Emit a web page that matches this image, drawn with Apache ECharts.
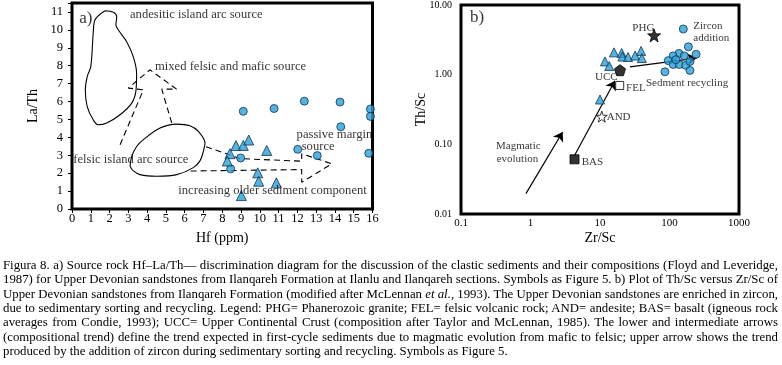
<!DOCTYPE html>
<html>
<head>
<meta charset="utf-8">
<script src="https://cdn.jsdelivr.net/npm/echarts@6/dist/echarts.min.js"></script>
<style>
  body { margin: 0; background: #fff; }
  #chart { position: absolute; left: 0; top: 0; width: 782px; height: 250px; }
  #caption { position: absolute; left: 3px; top: 258px; width: 775px; font: 12.8px/14.33px 'Liberation Serif', serif; color: #000; }
  #caption div { text-align: justify; text-align-last: justify; white-space: nowrap; }
  #caption div.last { text-align-last: left; }
</style>
</head>
<body>
<div id="chart"></div>
<div id="caption">
  <div>Figura 8. a) Source rock Hf–La/Th— discrimination diagram for the discussion of the clastic sediments and their compositions (Floyd and Leveridge,</div>
  <div>1987) for Upper Devonian sandstones from Ilanqareh Formation at Ilanlu and Ilanqareh sections. Symbols as Figure 5. b) Plot of Th/Sc versus Zr/Sc of</div>
  <div>Upper Devonian sandstones from Ilanqareh Formation (modified after McLennan <i>et al.</i>, 1993). The Upper Devonian sandstones are enriched in zircon,</div>
  <div>due to sedimentary sorting and recycling. Legend: PHG= Phanerozoic granite; FEL= felsic volcanic rock; AND= andesite; BAS= basalt (igneous rock</div>
  <div>averages from Condie, 1993); UCC= Upper Continental Crust (composition after Taylor and McLennan, 1985). The lower and intermediate arrows</div>
  <div>(compositional trend) define the trend expected in first-cycle sediments due to magmatic evolution from mafic to felsic; upper arrow shows the trend</div>
  <div class="last">produced by the addition of zircon during sedimentary sorting and recycling. Symbols as Figure 5.</div>
</div>
<script>
const FONT = 'Liberation Serif'

// a) Hf (ppm) vs La/Th
const hfCircle = [9.12, 10.76, 12.37, 14.27, 15.89, 15.89, 14.31, 12.02, 13.06, 15.8, 8.98, 8.45]
const laThCircle = [5.45, 5.61, 6.02, 5.97, 5.58, 5.17, 4.59, 3.33, 2.98, 3.11, 2.85, 2.24]
const hfTriangle = [8.73, 9.12, 9.41, 8.41, 8.27, 10.37, 9.89, 9.94, 10.88, 9.02]
const laThTriangle = [3.54, 3.55, 3.85, 3.09, 2.68, 3.27, 2.02, 1.55, 1.46, 0.75]

// source fields and trend arrows, in Hf / La/Th units
const andesiticArc = [[1.76, 11.07], [2.2, 10.98], [2.38, 10.74], [2.34, 10.27], [2.47, 9.99], [2.91, 9.34], [3.26, 8.51], [3.44, 7.58], [3.41, 6.65], [3.18, 5.91], [2.56, 5.26], [1.85, 4.8], [1.4, 4.7], [1.13, 4.98], [0.81, 5.72], [0.71, 6.65], [0.81, 7.39], [1.0, 7.95], [1.13, 9.81], [1.22, 10.55], [1.76, 11.07]]
const felsicArc = [[3.09, 2.38], [3.18, 2.94], [3.45, 3.5], [3.8, 3.87], [4.69, 4.52], [5.58, 4.74], [6.28, 4.65], [6.73, 4.33], [7.08, 3.69], [6.99, 3.2], [6.82, 2.7], [6.46, 2.31], [5.58, 1.92], [4.51, 1.83], [3.62, 1.92], [3.25, 2.14], [3.09, 2.38]]
const mixedArrow = [[2.56, 3.59], [3.8, 6.65], [3.0, 6.75], [4.15, 7.77], [5.57, 6.69], [4.78, 6.69], [5.31, 4.8]]
const olderArrow = [[7.14, 3.48], [8.95, 2.81], [12.23, 2.67], [12.23, 3.09], [13.83, 2.52], [12.23, 1.49], [12.23, 2.2], [6.28, 2.12]]

const labelTextA = ['a)', 'andesitic island arc source', 'mixed felsic and mafic source', 'felsic island arc source', 'passive margin', 'source', 'increasing older sediment component']
const labelPosA = [[0.39, 10.66], [3.09, 10.83], [4.42, 7.95], [0.07, 2.76], [11.96, 4.15], [12.23, 3.5], [5.66, 1.05]]

// b) Zr/Sc vs Th/Sc
const zrScCircle = [158, 187, 137, 113, 163, 241, 96, 113, 138, 171, 197, 86, 197, 123]
const thScCircle = [4.52, 2.51, 2.02, 1.86, 1.86, 1.96, 1.59, 1.4, 1.4, 1.36, 1.55, 1.1, 1.15, 1.64]
const zrScTriangle = [15.9, 20.5, 21, 25.3, 32, 39, 40, 11.8, 13.6, 10]
const thScTriangle = [2.09, 2.05, 1.82, 1.79, 1.88, 2.19, 1.73, 1.55, 1.33, 0.44]

const refNames = ['PHG', 'UCC', 'FEL', 'AND', 'BAS']
const refZrSc = [60, 19.4, 19.2, 10.6, 4.3]
const refThSc = [3.66, 1.16, 0.7, 0.25, 0.061]

const arrowFrom = [[0.86, 0.0196], [4.3, 0.069], [27, 1.29]]
const arrowTo = [[2.9, 0.15], [16.4, 0.82], [246, 1.73]]

const labelTextB = ['b)', 'PHG', 'Zircon', 'addition', 'UCC', 'FEL', 'AND', 'BAS', 'Sedment recycling', 'Magmatic', 'evolution']
const labelPosB = [[0.1347, 6.58], [29.2, 4.67], [220, 4.93], [220, 3.35], [8.47, 0.908], [23.7, 0.645], [12.5, 0.243], [5.45, 0.055], [45.9, 0.757], [0.319, 0.093], [0.326, 0.061]]

const STAR = 'path://M0,-10L2.35,-3.24L9.51,-3.09L3.8,1.24L5.88,8.09L0,4L-5.88,8.09L-3.8,1.24L-9.51,-3.09L-2.35,-3.24Z'
const PENTAGON = 'path://M0,-10L9.5,-3.1L5.9,8.1L-5.9,8.1L-9.5,-3.1Z'
const refStyle = {
  PHG: { symbol: STAR, size: 13, fill: '#000' },
  UCC: { symbol: PENTAGON, size: 11, fill: '#000' },
  FEL: { symbol: 'rect', size: 8, fill: '#fff' },
  AND: { symbol: STAR, size: 11, fill: '#fff' },
  BAS: { symbol: 'rect', size: 9, fill: '#000' }
}

const blue = { color: '#2aa0da', borderColor: '#12324d', borderWidth: 1 }
const zip = (xs, ys) => xs.map((x, i) => [x, ys[i]])

const chart = echarts.init(document.getElementById('chart'))

const outline = (pts, dashed, smooth) => ({
  type: 'line', xAxisIndex: 0, yAxisIndex: 0, data: pts, symbol: 'none', smooth: smooth, silent: true, z: 2,
  lineStyle: { color: '#000', width: 1.1, type: dashed ? [6, 4] : 'solid' }
})

const textSeries = (names, pos, idx, size) => ({
  type: 'scatter', xAxisIndex: idx, yAxisIndex: idx, symbolSize: 0, silent: true, z: 6,
  data: names.map((n, i) => ({ name: n, value: pos[i], label: n.endsWith(')') ? { fontSize: 17 } : {} })),
  label: { show: true, position: 'right', distance: 0, formatter: '{b}', fontFamily: FONT, fontSize: size, color: '#000' }
})

const tickA = { fontFamily: FONT, fontSize: 12.5, color: '#000' }
const tickB = { fontFamily: FONT, fontSize: 11, color: '#000' }
const nameText = { fontFamily: FONT, fontSize: 14, color: '#000' }

const option = {
  animation: false,
  grid: [
    { left: 72, top: 3, width: 300.5, height: 206.5, show: true, borderColor: '#000', borderWidth: 3 },
    { left: 461, top: 2, width: 278, height: 215, show: true, borderColor: '#000', borderWidth: 3 }
  ],
  xAxis: [
    {
      gridIndex: 0, type: 'value', min: 0, max: 16, interval: 1,
      name: 'Hf (ppm)', nameLocation: 'middle', nameGap: 22, nameMoveOverlap: false, nameTextStyle: nameText,
      axisLine: { show: false }, axisTick: { show: true, length: 4, lineStyle: { color: '#000' } },
      axisLabel: Object.assign({ margin: 3 }, tickA), splitLine: { show: false }
    },
    {
      gridIndex: 1, type: 'log', logBase: 10, min: 0.1, max: 1000,
      name: 'Zr/Sc', nameLocation: 'middle', nameGap: 17, nameMoveOverlap: false, nameTextStyle: nameText,
      axisLine: { show: false }, axisTick: { show: false },
      axisLabel: Object.assign({ margin: 4, formatter: v => String(+v.toPrecision(3)) }, tickB),
      splitLine: { show: false }
    }
  ],
  yAxis: [
    {
      gridIndex: 0, type: 'value', min: 0, max: 11.5, interval: 1,
      name: 'La/Th', nameLocation: 'middle', nameGap: 32, nameMoveOverlap: false, nameTextStyle: nameText,
      axisLine: { show: false }, axisTick: { show: true, length: 4, lineStyle: { color: '#000' } },
      axisLabel: Object.assign({ margin: 9, formatter: v => Number.isInteger(v) ? String(v) : '' }, tickA),
      splitLine: { show: false }
    },
    {
      gridIndex: 1, type: 'log', logBase: 10, min: 0.01, max: 10,
      name: 'Th/Sc', nameLocation: 'middle', nameGap: 33, nameMoveOverlap: false, nameTextStyle: nameText,
      axisLine: { show: false }, axisTick: { show: false },
      axisLabel: Object.assign({ margin: 9, formatter: v => (+v).toFixed(2) }, tickB, { fontSize: 10 }),
      splitLine: { show: false }
    }
  ],
  series: [
    outline(andesiticArc, false, 0.35),
    outline(felsicArc, false, 0.35),
    outline(mixedArrow, true, false),
    outline(olderArrow, true, false),
    {
      type: 'scatter', xAxisIndex: 0, yAxisIndex: 0, symbol: 'circle', symbolSize: 8, z: 4,
      itemStyle: blue, data: zip(hfCircle, laThCircle)
    },
    {
      type: 'scatter', xAxisIndex: 0, yAxisIndex: 0, symbol: 'triangle', symbolSize: 10, z: 4,
      itemStyle: blue, data: zip(hfTriangle, laThTriangle)
    },
    textSeries(labelTextA, labelPosA, 0, 12.6),
    {
      type: 'lines', coordinateSystem: 'cartesian2d', xAxisIndex: 1, yAxisIndex: 1, silent: true, z: 3,
      symbol: ['none', 'arrow'], symbolSize: 9,
      lineStyle: { color: '#000', width: 1.2, opacity: 1 },
      data: arrowFrom.map((p, i) => ({ coords: [p, arrowTo[i]] }))
    },
    {
      type: 'scatter', xAxisIndex: 1, yAxisIndex: 1, symbol: 'circle', symbolSize: 8, z: 4,
      itemStyle: blue, data: zip(zrScCircle, thScCircle)
    },
    {
      type: 'scatter', xAxisIndex: 1, yAxisIndex: 1, symbol: 'triangle', symbolSize: 9, z: 4,
      itemStyle: blue, data: zip(zrScTriangle, thScTriangle)
    },
    {
      type: 'scatter', xAxisIndex: 1, yAxisIndex: 1, z: 5, silent: true,
      data: refNames.map((n, i) => ({
        name: n, value: [refZrSc[i], refThSc[i]],
        symbol: refStyle[n].symbol, symbolSize: refStyle[n].size,
        itemStyle: { color: refStyle[n].fill, borderColor: '#000', borderWidth: 1 }
      }))
    },
    textSeries(labelTextB, labelPosB, 1, 11)
  ]
}

chart.setOption(option)
</script>
</body>
</html>
